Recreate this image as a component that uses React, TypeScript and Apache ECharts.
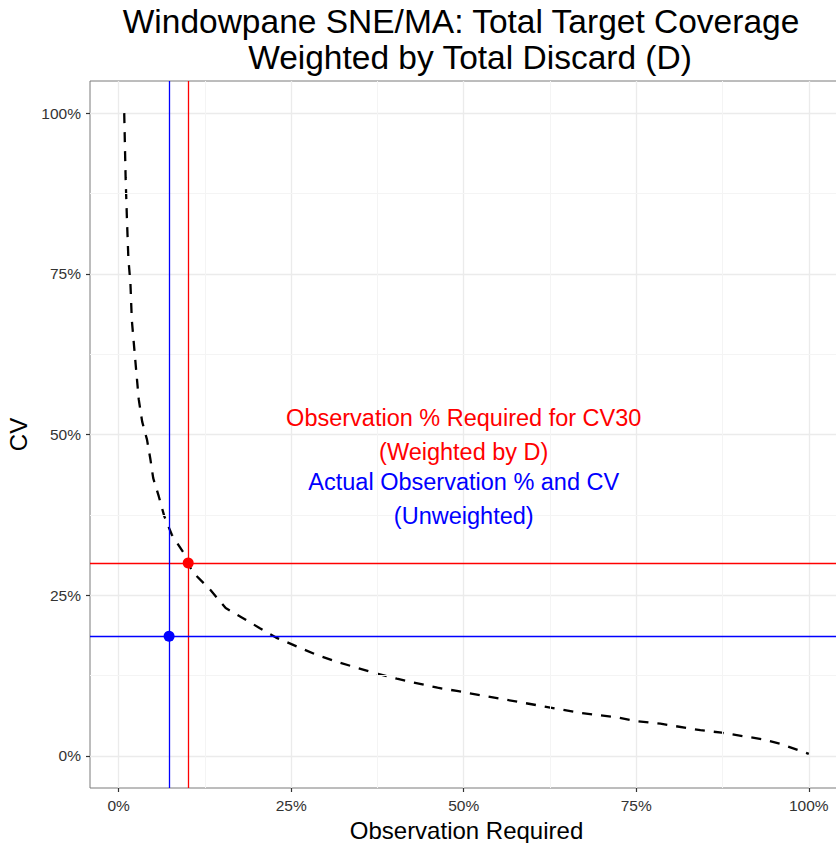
import React, { useEffect, useRef } from "react";
import * as echarts from "echarts";

// Curve: observation % required (x) vs CV (y), both in %
const obsRequired = [0.8, 1.0, 1.2, 1.4, 1.7, 1.9, 2.4, 2.9, 3.4, 4.1, 4.6, 5.0, 5.8, 6.6, 7.7, 9.4, 10.0, 10.8, 13.3, 15.5, 17.9, 20.4, 22.8, 26.3, 28.7, 32.0, 37.4, 40.3, 46.2, 49.0, 57.9, 66.8, 72.2, 75.0, 78.5, 84.3, 87.4, 93.2, 96.1, 100];
const cvValues = [100, 90, 83.3, 77.4, 73.5, 67.8, 61.6, 55.5, 52.0, 49.2, 46.1, 43.2, 40.4, 37.3, 34.4, 31.6, 30.0, 28.5, 25.8, 23.0, 21.5, 19.9, 18.4, 16.8, 15.7, 14.5, 12.8, 12.0, 10.6, 10.1, 8.4, 6.7, 6.0, 5.4, 5.0, 4.0, 3.6, 2.6, 1.8, 0.3];

// Reference values
const requiredObs = 10.07; // observation % required for CV30 (weighted)
const targetCV = 30;
const actualObs = 7.3; // actual observation %
const actualCV = 18.6; // actual CV (unweighted)

const tickValues = [0, 25, 50, 75, 100];
const minorValues = [12.5, 37.5, 62.5, 87.5];

const titleLines = ["Windowpane SNE/MA: Total Target Coverage", "Weighted by Total Discard (D)"];
const redNote = "Observation % Required for CV30\n(Weighted by D)";
const blueNote = "Actual Observation % and CV\n(Unweighted)";
const redNotePos = [50, 50];
const blueNotePos = [50, 40];

const FONT = "Liberation Sans, Arial, sans-serif";

export default function App() {
  const ref = useRef<HTMLDivElement>(null);
  useEffect(() => {
    document.body.style.margin = "0";
    if (!ref.current) return;
    const chart = echarts.init(ref.current, undefined, { renderer: "svg" });
    const curve = obsRequired.map((x, i) => [x, cvValues[i]]);
    const axisCommon = {
      type: "value" as const,
      axisLine: { show: false, onZero: false },
      axisTick: { show: true, length: 4, customValues: tickValues, lineStyle: { color: "#333", width: 1.2 } },
      splitLine: { show: true, lineStyle: { color: "#ebebeb", width: 1.3 } },
      nameTextStyle: { fontFamily: FONT, fontSize: 24, color: "#000" },
    };
    const tickLabel = { customValues: tickValues, formatter: (v: number) => `${v}%`, fontSize: 15.5, color: "#333", fontFamily: FONT };
    chart.setOption({
      animation: false,
      textStyle: { fontFamily: FONT },
      graphic: [
        { type: "text", x: 461, y: 21, style: { text: titleLines[0], font: `33.5px ${FONT}`, fill: "#000", align: "center", verticalAlign: "middle" } },
        { type: "text", x: 470, y: 57, style: { text: titleLines[1], font: `33.5px ${FONT}`, fill: "#000", align: "center", verticalAlign: "middle" } },
      ],
      grid: { left: 90, top: 81, width: 753, height: 707, outerBoundsMode: "none", containLabel: false, show: true, borderColor: "#7a7a7a", borderWidth: 1, backgroundColor: "#fff" },
      xAxis: {
        ...axisCommon,
        min: -4.16,
        max: 104.96,
        name: "Observation Required",
        nameLocation: "middle",
        nameGap: 30,
        axisLabel: { ...tickLabel, margin: 9 },
      },
      yAxis: {
        ...axisCommon,
        min: -5,
        max: 105,
        name: "CV",
        nameLocation: "middle",
        nameGap: 58,
        axisLabel: { ...tickLabel, margin: 9 },
      },
      series: [
        {
          type: "line",
          name: "minor-grid",
          data: curve,
          symbol: "none",
          lineStyle: { opacity: 0 },
          silent: true,
          z: 1,
          markLine: {
            silent: true,
            symbol: "none",
            label: { show: false },
            lineStyle: { color: "#f4f4f4", width: 1, type: "solid" },
            data: [
              ...minorValues.map((v) => ({ xAxis: v })),
              ...minorValues.map((v) => ({ yAxis: v })),
            ],
          },
        },
        {
          type: "line",
          name: "refs",
          data: curve,
          symbol: "none",
          lineStyle: { opacity: 0 },
          silent: true,
          z: 2,
          markLine: {
            silent: true,
            symbol: "none",
            label: { show: false },
            data: [
              { xAxis: requiredObs, lineStyle: { color: "#ff0000", width: 1.3, type: "solid", opacity: 1 } },
              { yAxis: targetCV, lineStyle: { color: "#ff0000", width: 1.3, type: "solid", opacity: 1 } },
              { xAxis: actualObs, lineStyle: { color: "#0000ff", width: 1.3, type: "solid", opacity: 1 } },
              { yAxis: actualCV, lineStyle: { color: "#0000ff", width: 1.3, type: "solid", opacity: 1 } },
            ],
          },
        },
        {
          type: "line",
          name: "CV curve",
          data: curve,
          symbol: "none",
          smooth: false,
          z: 3,
          lineStyle: { color: "#000", width: 2.3, type: [10, 9] },
        },
        {
          type: "scatter",
          name: "points",
          z: 4,
          symbolSize: 11,
          data: [
            { value: [requiredObs, targetCV], itemStyle: { color: "#ff0000", opacity: 1 } },
            { value: [actualObs, actualCV], itemStyle: { color: "#0000ff", opacity: 1 } },
          ],
        },
        {
          type: "scatter",
          name: "notes",
          z: 5,
          symbolSize: 2,
          itemStyle: { color: "transparent", opacity: 1 },
          silent: true,
          label: { show: true, position: "inside", align: "center", verticalAlign: "middle", fontFamily: FONT, fontSize: 23.5, lineHeight: 34 },
          data: [
            { value: redNotePos, label: { formatter: redNote, color: "#ff0000" } },
            { value: blueNotePos, label: { formatter: blueNote, color: "#0000ff" } },
          ],
        },
      ],
    });
    return () => chart.dispose();
  }, []);
  return <div ref={ref} style={{ width: 836, height: 843 }} />;
}
